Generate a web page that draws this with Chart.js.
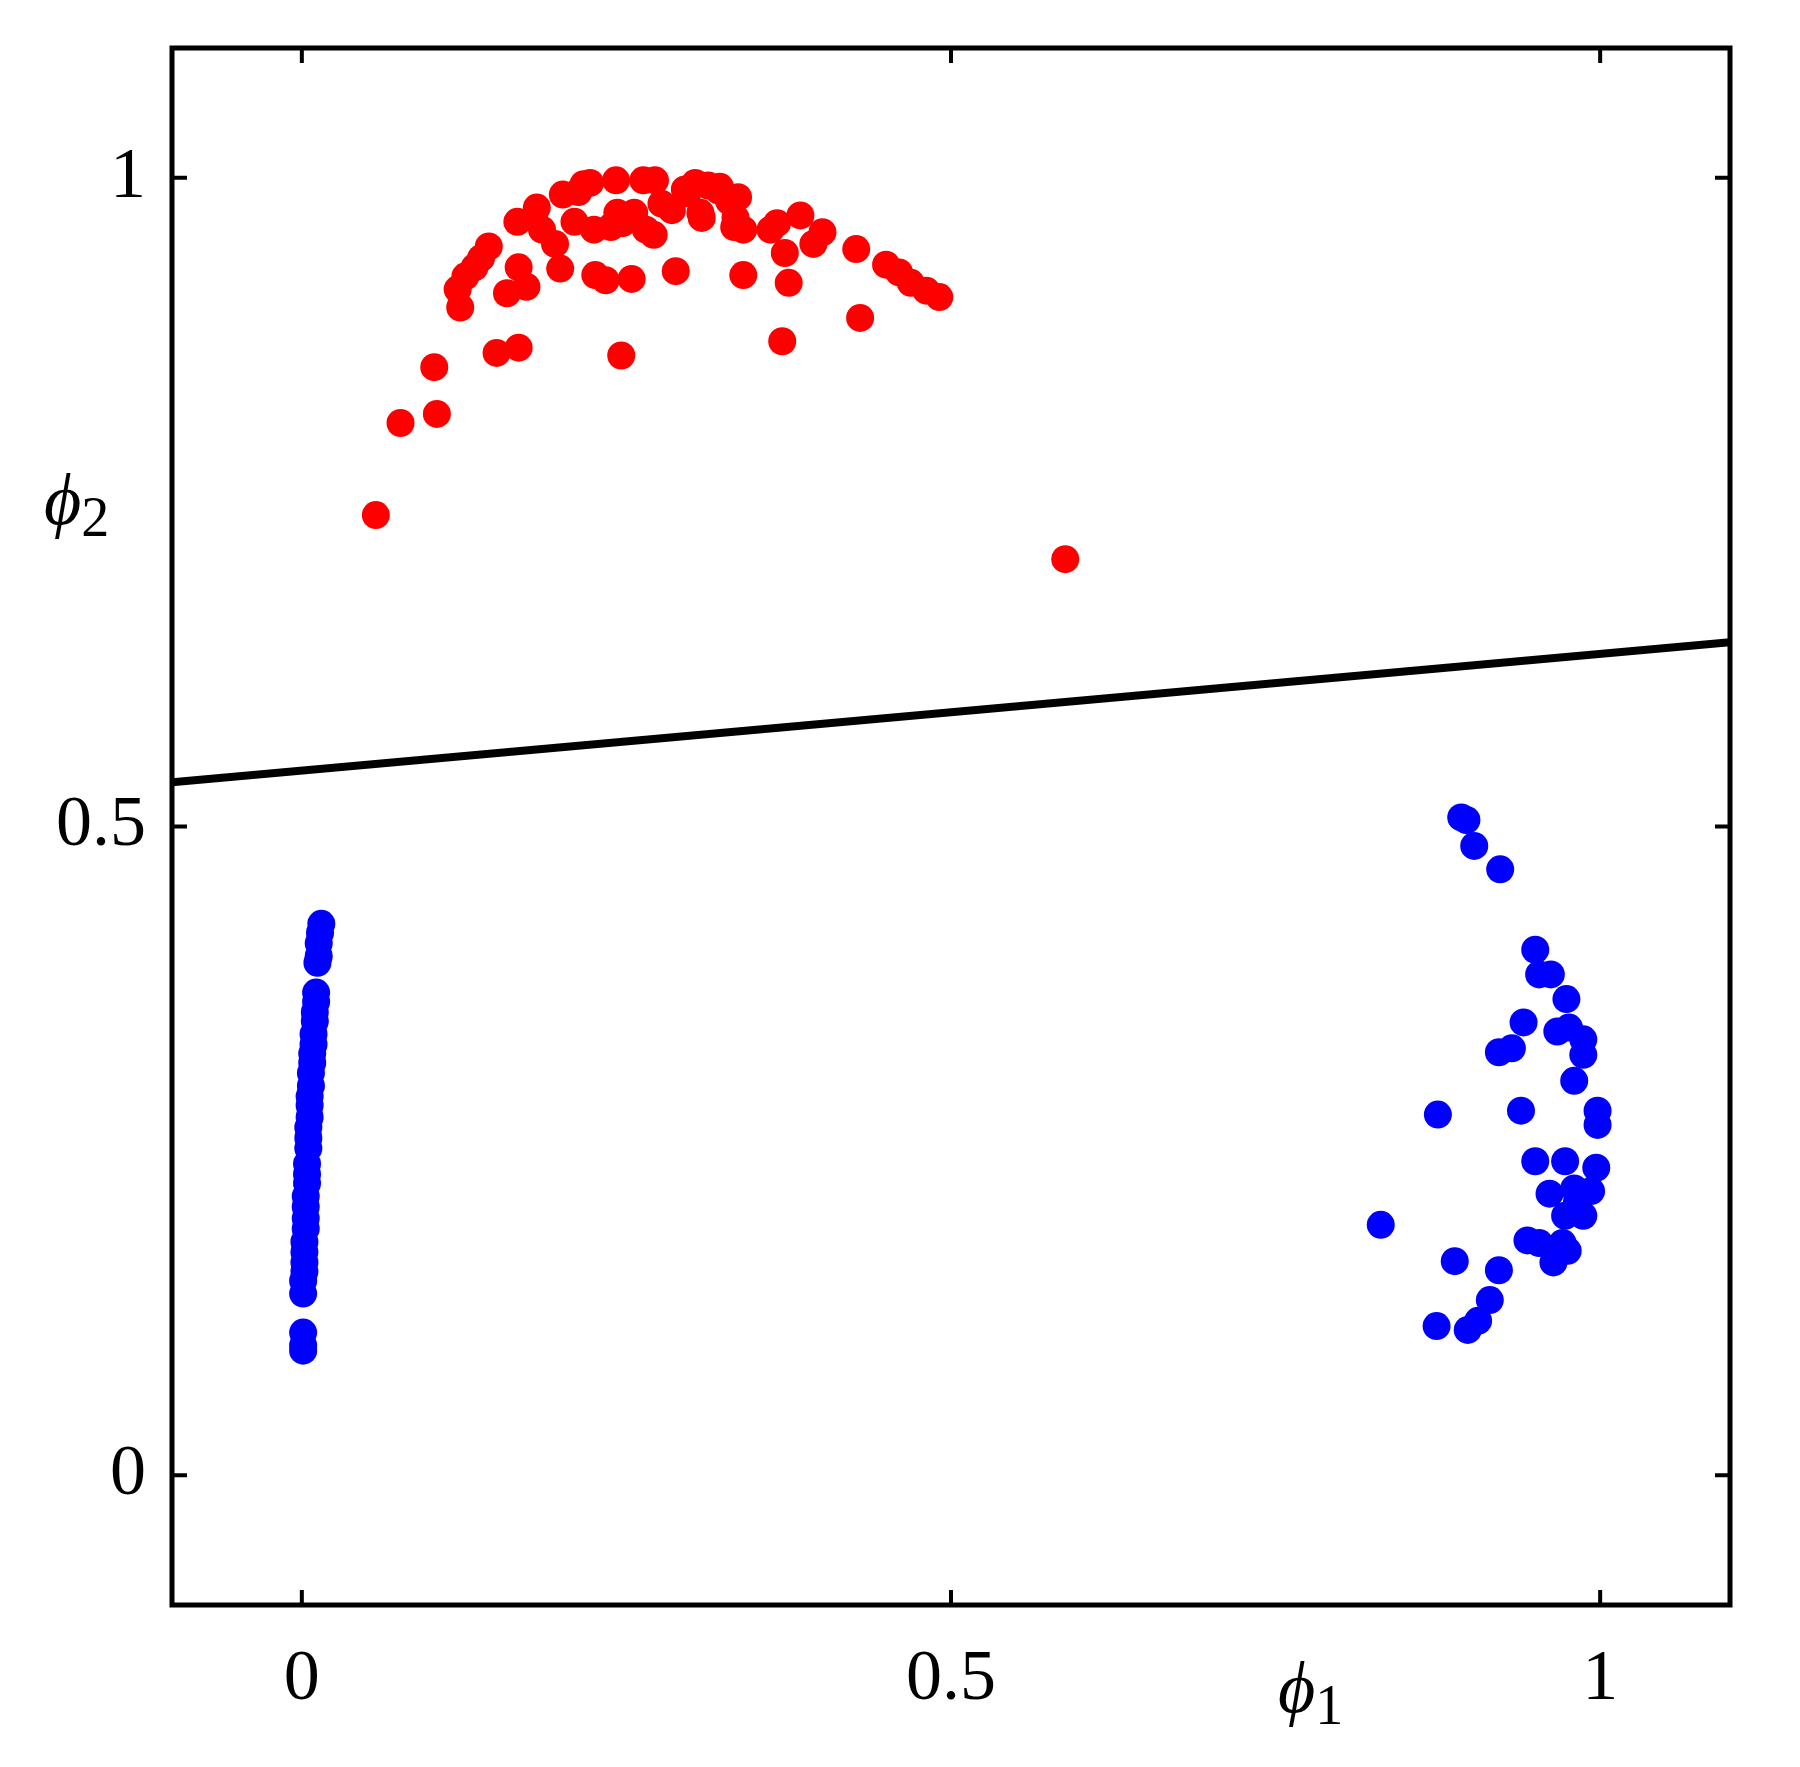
<!DOCTYPE html>
<html>
<head>
<meta charset="utf-8">
<script src="https://cdn.jsdelivr.net/npm/chart.js@4/dist/chart.umd.min.js"></script>
<style>
  html, body { margin: 0; padding: 0; background: #fff; }
  #wrap { width: 1800px; height: 1767px; }
</style>
</head>
<body>
<div id="wrap"><canvas id="chartScatter"></canvas></div>
<script>
// classe 1 (rouge)
const redX = [0.057, 0.076, 0.104, 0.102, 0.122, 0.120, 0.126, 0.133, 0.138, 0.144, 0.150, 0.167, 0.158, 0.167, 0.173,
  0.166, 0.179, 0.181, 0.195, 0.199, 0.201, 0.210, 0.213, 0.222, 0.225, 0.226, 0.234, 0.242, 0.243, 0.246, 0.247,
  0.254, 0.256, 0.263, 0.265, 0.272, 0.271, 0.277, 0.288, 0.295, 0.303, 0.308, 0.313, 0.321, 0.329, 0.334, 0.340,
  0.340, 0.361, 0.366, 0.372, 0.370, 0.375, 0.384, 0.394, 0.401, 0.427, 0.430, 0.450, 0.460, 0.469, 0.481, 0.491, 0.588,
  0.217, 0.248, 0.238, 0.297, 0.307, 0.322, 0.336, 0.333, 0.285, 0.185];
const redY = [0.740, 0.811, 0.818, 0.854, 0.900, 0.914, 0.924, 0.931, 0.938, 0.947, 0.865, 0.869, 0.911, 0.931, 0.916,
  0.966, 0.969, 0.977, 0.949, 0.930, 0.987, 0.966, 0.989, 0.996, 0.960, 0.925, 0.921, 0.998, 0.973, 0.863, 0.965,
  0.922, 0.973, 0.998, 0.960, 0.998, 0.956, 0.980, 0.928, 0.991, 0.996, 0.969, 0.994, 0.990, 0.982, 0.969, 0.925,
  0.960, 0.960, 0.965, 0.942, 0.874, 0.919, 0.971, 0.949, 0.958, 0.945, 0.892, 0.933, 0.927, 0.919, 0.913, 0.908, 0.706,
  0.995, 0.968, 0.962, 0.988, 0.973, 0.993, 0.985, 0.962, 0.975, 0.960];

// classe 2 (bleu) - colonne de gauche
const blueLeftX = [0.015, 0.014, 0.013, 0.013, 0.012, 0.011, 0.011, 0.010, 0.010, 0.009, 0.009, 0.008, 0.008, 0.007,
  0.007, 0.006, 0.006, 0.006, 0.005, 0.005, 0.005, 0.004, 0.004, 0.004, 0.003, 0.003, 0.003, 0.003, 0.002, 0.002,
  0.002, 0.002, 0.001, 0.001, 0.001, 0.001, 0.001];
const blueLeftY = [0.425, 0.418, 0.410, 0.400, 0.395, 0.372, 0.365, 0.357, 0.350, 0.340, 0.332, 0.325, 0.318, 0.310,
  0.300, 0.292, 0.285, 0.276, 0.268, 0.260, 0.252, 0.240, 0.232, 0.225, 0.215, 0.207, 0.198, 0.190, 0.180, 0.172,
  0.164, 0.157, 0.150, 0.140, 0.110, 0.100, 0.096];

// classe 2 (bleu) - groupe de droite
const blueRightX = [0.893, 0.897, 0.903, 0.923, 0.950, 0.953, 0.962, 0.974, 0.941, 0.932, 0.922, 0.967, 0.976, 0.987,
  0.987, 0.980, 0.875, 0.939, 0.998, 0.998, 0.950, 0.973, 0.997, 0.961, 0.980, 0.993, 0.973, 0.987, 0.831, 0.944,
  0.953, 0.971, 0.964, 0.888, 0.922, 0.915, 0.874, 0.898, 0.906, 0.982, 0.975];
const blueRightY = [0.507, 0.505, 0.485, 0.467, 0.405, 0.386, 0.386, 0.367, 0.349, 0.329, 0.326, 0.342, 0.345, 0.336,
  0.324, 0.304, 0.278, 0.281, 0.281, 0.270, 0.242, 0.242, 0.237, 0.217, 0.221, 0.219, 0.200, 0.200, 0.193, 0.181,
  0.179, 0.179, 0.164, 0.165, 0.158, 0.135, 0.115, 0.112, 0.119, 0.210, 0.173];

// frontiere de decision
const lineX = [-0.1, 1.1];
const lineY = [0.534, 0.642];

const tickValues = [0, 0.5, 1];
const axisMin = -0.1;
const axisMax = 1.1;

const toPoints = (xs, ys) => xs.map((x, i) => ({ x: x, y: ys[i] }));

const serif = '"Liberation Serif", "DejaVu Serif", serif';

// cadre + ticks vers l'interieur + labels phi
const framePlugin = {
  id: 'frame',
  afterDraw(chart) {
    const { ctx, chartArea: a, scales } = chart;
    const len = 15;
    ctx.save();
    ctx.strokeStyle = '#000';
    ctx.lineWidth = 5;
    ctx.strokeRect(a.left, a.top, a.right - a.left, a.bottom - a.top);
    ctx.lineWidth = 4;
    tickValues.forEach(v => {
      const px = scales.x.getPixelForValue(v);
      ctx.beginPath();
      ctx.moveTo(px, a.bottom); ctx.lineTo(px, a.bottom - len);
      ctx.moveTo(px, a.top); ctx.lineTo(px, a.top + len);
      ctx.stroke();
      const py = scales.y.getPixelForValue(v);
      ctx.beginPath();
      ctx.moveTo(a.left, py); ctx.lineTo(a.left + len, py);
      ctx.moveTo(a.right, py); ctx.lineTo(a.right - len, py);
      ctx.stroke();
    });
    // labels des axes
    ctx.fillStyle = '#000';
    ctx.textBaseline = 'alphabetic';
    const drawPhi = (x, y, sub) => {
      ctx.font = 'italic 72px ' + serif;
      ctx.textAlign = 'left';
      ctx.fillText('\u03D5', x, y);
      const w = ctx.measureText('\u03D5').width;
      ctx.font = '56px ' + serif;
      ctx.fillText(sub, x + w, y + 12);
    };
    drawPhi(1278, 1712, '1');
    drawPhi(44, 524, '2');
    ctx.restore();
  }
};

const ctxScatter = document.getElementById('chartScatter').getContext('2d');
const chartScatter = new Chart(ctxScatter, {
  type: 'scatter',
  data: {
    datasets: [
      {
        // frontiere
        type: 'line',
        data: toPoints(lineX, lineY),
        borderColor: '#000',
        borderWidth: 8,
        pointRadius: 0,
        fill: false,
        order: 3
      },
      {
        data: toPoints(redX, redY),
        backgroundColor: '#FF0000',
        borderWidth: 0,
        pointRadius: 14,
        order: 1
      },
      {
        data: toPoints(blueLeftX, blueLeftY),
        backgroundColor: '#0000FF',
        borderWidth: 0,
        pointRadius: 14,
        order: 2
      },
      {
        data: toPoints(blueRightX, blueRightY),
        backgroundColor: '#0000FF',
        borderWidth: 0,
        pointRadius: 14,
        order: 2
      }
    ]
  },
  options: {
    responsive: true,
    maintainAspectRatio: false,
    animation: false,
    layout: { padding: { left: 0, right: 70, top: 48, bottom: 0 } },
    plugins: { legend: { display: false }, tooltip: { enabled: false } },
    scales: {
      x: {
        type: 'linear',
        min: axisMin,
        max: axisMax,
        afterBuildTicks: s => { s.ticks = tickValues.map(v => ({ value: v })); },
        afterFit: s => { s.height = 162; s.paddingLeft = 0; s.paddingRight = 0; },
        grid: { display: false, drawTicks: false },
        border: { display: false },
        ticks: {
          padding: 32,
          color: '#000',
          font: { family: serif, size: 72 },
          callback: v => String(v)
        }
      },
      y: {
        type: 'linear',
        min: axisMin,
        max: axisMax,
        afterBuildTicks: s => { s.ticks = tickValues.map(v => ({ value: v })); },
        afterFit: s => { s.width = 172; s.paddingTop = 0; s.paddingBottom = 0; },
        grid: { display: false, drawTicks: false },
        border: { display: false },
        ticks: {
          padding: 26,
          color: '#000',
          font: { family: serif, size: 72 },
          callback: v => String(v)
        }
      }
    }
  },
  plugins: [framePlugin]
});
</script>
</body>
</html>
